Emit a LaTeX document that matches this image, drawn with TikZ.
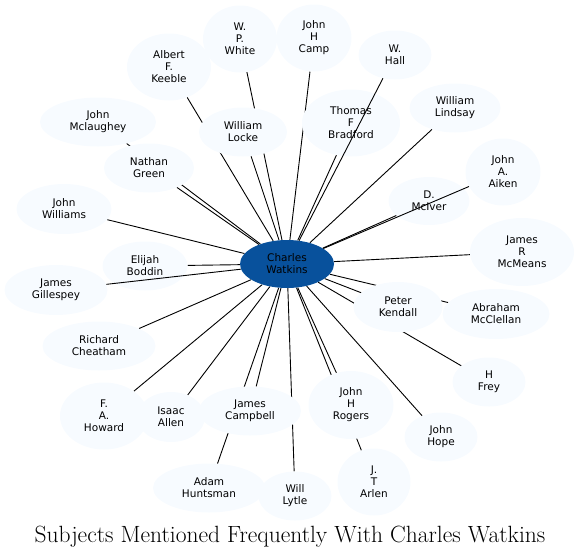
\documentclass[tikz,border=0pt]{standalone}
\usepackage{fontspec}
\newfontfamily\namefont{DejaVu Sans}
\definecolor{focusblue}{HTML}{08519C}
\definecolor{palblue}{HTML}{F7FBFF}
\usetikzlibrary{shapes.geometric, backgrounds}

\tikzset{
  person/.style={ellipse, fill=palblue, inner sep=0pt, align=center,
    minimum width=73pt, minimum height=49pt,
    font=\namefont\fontsize{10.5}{12}\selectfont},
  tall/.style={minimum height=67pt},
  focus/.style={person, fill=focusblue, minimum width=94pt, minimum height=48pt},
  tie/.style={draw=black, line width=0.9pt}
}

\begin{document}
\begin{tikzpicture}[x=1pt, y=-1pt]
  \useasboundingbox (0,0) rectangle (580,557);

  \node[focus] (charles) at (287,264) {Charles\\Watkins};

  % top
  \node[person, tall, minimum width=74pt] (white) at (240,39) {W.\\P.\\White};
  \node[person, tall, minimum width=75pt] (camp) at (314,38) {John\\H\\Camp};
  \node[person, tall, minimum width=84pt] (keeble) at (169,67) {Albert\\F.\\Keeble};
  \node[person] (hall) at (395,55) {W.\\Hall};
  \node[person, minimum width=116pt] (mclaughey) at (98,122) {John\\Mclaughey};
  \node[person, minimum width=88pt] (locke) at (243,132) {William\\Locke};
  \node[person, tall, minimum width=98pt] (bradford) at (351,123) {Thomas\\F\\Bradford};
  \node[person, minimum width=91pt] (lindsay) at (455,108) {William\\Lindsay};
  \node[person, minimum width=90pt] (green) at (149,168) {Nathan\\Green};
  \node[person, tall, minimum width=75pt] (aiken) at (503,172) {John\\A.\\Aiken};

  % middle
  \node[person, minimum width=95pt, minimum height=50pt] (williams) at (64,209) {John\\Williams};
  \node[person, minimum width=81pt, minimum height=48pt] (mciver) at (429,201) {D.\\McIver};
  \node[person, minimum width=85pt] (boddin) at (145,266) {Elijah\\Boddin};
  \node[person, minimum width=104pt, minimum height=68pt] (mcmeans) at (522,252) {James\\R\\McMeans};
  \node[person, minimum width=103pt, minimum height=50pt] (gillespey) at (56,290) {James\\Gillespey};
  \node[person, minimum width=89pt, minimum height=50pt] (kendall) at (398,307) {Peter\\Kendall};
  \node[person, minimum width=107pt, minimum height=50pt] (mcclellan) at (496,314) {Abraham\\McClellan};
  \node[person, minimum width=113pt] (cheatham) at (99,346) {Richard\\Cheatham};
  \node[person] (frey) at (489,382) {H\\Frey};

  % bottom
  \node[person, tall, minimum width=88pt] (howard) at (104,416) {F.\\A.\\Howard};
  \node[person, minimum width=68pt, minimum height=50pt] (allen) at (171,417) {Isaac\\Allen};
  \node[person, minimum width=102pt] (campbell) at (250,411) {James\\Campbell};
  \node[person, minimum width=112pt] (huntsman) at (209,488) {Adam\\Huntsman};
  \node[person] (lytle) at (295,496) {Will\\Lytle};
  \node[person, minimum width=85pt, minimum height=68pt] (rogers) at (351,405) {John\\H\\Rogers};
  \node[person] (hope) at (441,437) {John\\Hope};
  \node[person, tall] (arlen) at (374,482) {J.\\T\\Arlen};

  \begin{scope}[on background layer]
    \foreach \who in {white, camp, keeble, mclaughey, locke, bradford, lindsay,
        green, williams, mciver, boddin, mcmeans, kendall, mcclellan,
        cheatham, frey, howard, allen, campbell, huntsman, lytle, rogers, hope, arlen}
      \draw[tie] (charles) -- (\who);
  \end{scope}
  % these run over the nodes they cross
  \foreach \who in {hall, aiken, gillespey}
    \draw[tie] (charles) -- (\who);

  \node[anchor=base, font=\fontsize{23.5}{28}\selectfont] (title) at (290,542)
    {Subjects Mentioned Frequently With Charles Watkins};
\end{tikzpicture}
\end{document}
